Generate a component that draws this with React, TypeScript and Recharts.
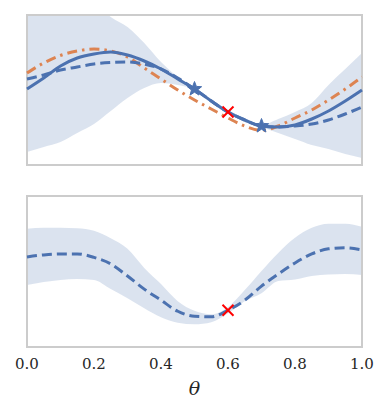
import React from 'react'
import {
  ComposedChart, Area, Line, Scatter, XAxis, YAxis, ReferenceArea,
} from 'recharts'

const THETA = [0, 0.05, 0.1, 0.15, 0.2, 0.25, 0.3, 0.35, 0.4, 0.45, 0.5, 0.55, 0.6, 0.65, 0.7, 0.75, 0.8, 0.85, 0.9, 0.95, 1.0]

// top panel
const TRUE_F = [0.02, 0.24, 0.48, 0.64, 0.72, 0.76, 0.70, 0.58, 0.42, 0.22, 0.02, -0.22, -0.44, -0.60, -0.72, -0.74, -0.70, -0.58, -0.42, -0.22, 0.00]
const MEAN_TOP = [0.22, 0.30, 0.40, 0.46, 0.52, 0.55, 0.56, 0.52, 0.42, 0.24, 0.02, -0.22, -0.44, -0.60, -0.72, -0.74, -0.72, -0.68, -0.60, -0.48, -0.34]
const ALT_F = [0.34, 0.54, 0.69, 0.78, 0.82, 0.78, 0.66, 0.44, 0.22, 0.00, -0.20, -0.38, -0.56, -0.72, -0.81, -0.72, -0.56, -0.40, -0.20, 0.02, 0.26]
const UPPER_TOP = [3.0, 2.7, 2.4, 2.1, 1.8, 1.46, 1.26, 0.94, 0.56, 0.26, 0.04, -0.18, -0.40, -0.56, -0.70, -0.58, -0.44, -0.26, 0.10, 0.42, 0.74]
const LOWER_TOP = [-1.24, -1.14, -1.04, -0.86, -0.68, -0.42, -0.16, 0.04, 0.14, 0.10, 0.00, -0.26, -0.48, -0.64, -0.74, -0.86, -0.98, -1.10, -1.18, -1.28, -1.36]
const OBS_THETA = [0.5, 0.7]
const OBS_Y = [0.02, -0.72]
const NEXT_TOP = { theta: 0.6, y: -0.44 }

// bottom panel
const MEAN_BOTTOM = [0.29, 0.33, 0.35, 0.35, 0.28, 0.15, -0.09, -0.35, -0.57, -0.79, -0.89, -0.90, -0.77, -0.57, -0.29, -0.05, 0.17, 0.35, 0.45, 0.47, 0.43]
const UPPER_BOTTOM = [0.85, 0.87, 0.87, 0.86, 0.81, 0.66, 0.45, 0.07, -0.25, -0.59, -0.78, -0.85, -0.71, -0.37, 0.01, 0.37, 0.67, 0.87, 0.95, 0.95, 0.89]
const LOWER_BOTTOM = [-0.27, -0.21, -0.17, -0.15, -0.17, -0.35, -0.53, -0.73, -0.91, -1.02, -1.05, -1.01, -0.83, -0.59, -0.43, -0.19, -0.16, -0.09, -0.06, -0.05, -0.07]
const NEXT_BOTTOM = { theta: 0.6, y: -0.77 }

const X_TICKS = [0, 0.2, 0.4, 0.6, 0.8, 1.0]

const BLUE = '#4c72b0'
const ORANGE = '#dd8452'
const FRAME = '#cccccc'

const topData = THETA.map((t, i) => ({
  theta: t,
  truth: TRUE_F[i],
  mean: MEAN_TOP[i],
  alt: ALT_F[i],
  band: [LOWER_TOP[i], UPPER_TOP[i]],
}))
const bottomData = THETA.map((t, i) => ({
  theta: t,
  mean: MEAN_BOTTOM[i],
  band: [LOWER_BOTTOM[i], UPPER_BOTTOM[i]],
}))
const stars = OBS_THETA.map((t, i) => ({ theta: t, y: OBS_Y[i] }))

function Star(props: any) {
  const { cx, cy } = props
  if (cx == null || cy == null) return null
  const pts: string[] = []
  for (let k = 0; k < 10; k++) {
    const r = k % 2 === 0 ? 7.5 : 3.2
    const a = -Math.PI / 2 + (k * Math.PI) / 5
    pts.push(`${cx + r * Math.cos(a)},${cy + r * Math.sin(a)}`)
  }
  return <polygon points={pts.join(' ')} fill={BLUE} stroke={BLUE} strokeWidth={1} />
}

function XMark(props: any) {
  const { cx, cy } = props
  if (cx == null || cy == null) return null
  const d = 5.5
  return (
    <g stroke="#ff0000" strokeWidth={2}>
      <line x1={cx - d} y1={cy - d} x2={cx + d} y2={cy + d} />
      <line x1={cx - d} y1={cy + d} x2={cx + d} y2={cy - d} />
    </g>
  )
}

const Y_DOMAIN: [number, number] = [-1.5, 1.5]

export default function App() {
  return (
    <div style={{ position: 'absolute', top: 0, left: 0, width: 390, height: 414, background: '#fff' }}>
      <div style={{ position: 'absolute', top: 0, left: 0 }}>
        <ComposedChart width={390} height={180} data={topData} margin={{ top: 15, right: 28, bottom: 15, left: 27 }}>
          <XAxis dataKey="theta" type="number" domain={[0, 1]} hide />
          <YAxis dataKey="y" type="number" domain={Y_DOMAIN} allowDataOverflow hide />
          <Area dataKey="band" type="monotone" fill={BLUE} fillOpacity={0.2} stroke="none" isAnimationActive={false} />
          <Line dataKey="alt" type="monotone" stroke={ORANGE} strokeWidth={3} strokeDasharray="10 5 2.5 5" dot={false} isAnimationActive={false} />
          <Line dataKey="truth" type="monotone" stroke={BLUE} strokeWidth={3} dot={false} isAnimationActive={false} />
          <Line dataKey="mean" type="monotone" stroke={BLUE} strokeWidth={3} strokeDasharray="10 5" dot={false} isAnimationActive={false} />
          <Scatter data={stars} dataKey="y" shape={<Star />} isAnimationActive={false} />
          <Scatter data={[NEXT_TOP]} dataKey="y" shape={<XMark />} isAnimationActive={false} />
          <ReferenceArea x1={0} x2={1} y1={-1.5} y2={1.5} fill="none" stroke={FRAME} strokeWidth={2} ifOverflow="visible" />
        </ComposedChart>
      </div>
      <div style={{ position: 'absolute', top: 180, left: 0 }}>
        <ComposedChart width={390} height={234} data={bottomData} margin={{ top: 16, right: 28, bottom: 17, left: 27 }}>
          <XAxis
            dataKey="theta"
            type="number"
            domain={[0, 1]}
            ticks={X_TICKS}
            tickFormatter={(v: number) => v.toFixed(1)}
            tickLine={false}
            axisLine={false}
            tickSize={0}
            tickMargin={11}
            height={50}
            tick={{ fontSize: 15, fill: '#262626', fontFamily: 'DejaVu Serif' }}
            label={{ value: 'θ', position: 'insideBottom', offset: 2, style: { fontSize: 19, fontStyle: 'italic', fill: '#262626', fontFamily: 'DejaVu Serif' } }}
          />
          <YAxis dataKey="y" type="number" domain={Y_DOMAIN} allowDataOverflow hide />
          <Area dataKey="band" type="monotone" fill={BLUE} fillOpacity={0.2} stroke="none" isAnimationActive={false} />
          <Line dataKey="mean" type="monotone" stroke={BLUE} strokeWidth={3} strokeDasharray="10 5" dot={false} isAnimationActive={false} />
          <Scatter data={[NEXT_BOTTOM]} dataKey="y" shape={<XMark />} isAnimationActive={false} />
          <ReferenceArea x1={0} x2={1} y1={-1.5} y2={1.5} fill="none" stroke={FRAME} strokeWidth={2} ifOverflow="visible" />
        </ComposedChart>
      </div>
    </div>
  )
}
